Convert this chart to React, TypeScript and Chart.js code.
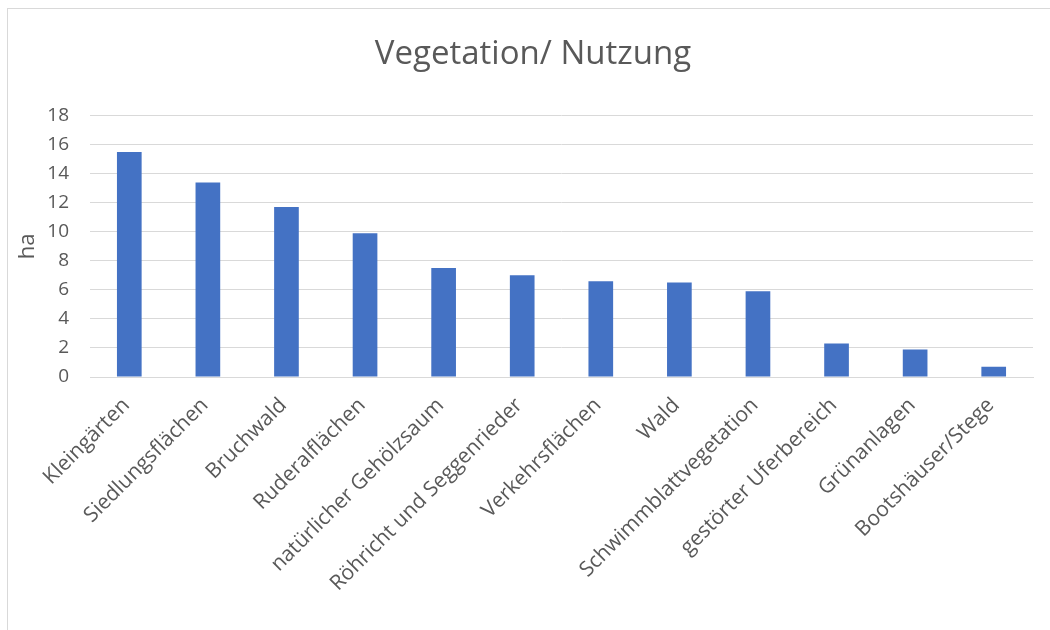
import React, { useEffect, useRef } from "react";
import { Chart, registerables } from "chart.js";

Chart.register(...registerables);

const categories = [
  "Kleingärten",
  "Siedlungsflächen",
  "Bruchwald",
  "Ruderalflächen",
  "natürlicher Gehölzsaum",
  "Röhricht und Seggenrieder",
  "Verkehrsflächen",
  "Wald",
  "Schwimmblattvegetation",
  "gestörter Uferbereich",
  "Grünanlagen",
  "Bootshäuser/Stege",
];
const values = [15.5, 13.4, 11.7, 9.9, 7.5, 7.0, 6.6, 6.5, 5.9, 2.3, 1.9, 0.7];
const titleText = "Vegetation/ Nutzung";
const yTitle = "ha";

const FONT = "'Open Sans', 'Noto Sans', sans-serif";
const TEXT = "#595959";

export default function App() {
  const ref = useRef<HTMLCanvasElement | null>(null);
  useEffect(() => {
    if (!ref.current) return;
    const chart = new Chart(ref.current, {
      type: "bar",
      data: {
        labels: categories,
        datasets: [
          {
            data: values,
            backgroundColor: "#4472C4",
            borderWidth: 0,
            barPercentage: 0.314,
            categoryPercentage: 1,
          },
        ],
      },
      options: {
        animation: false,
        responsive: false,
        layout: { padding: { left: 25, right: 18, top: 0, bottom: 0 } },
        plugins: {
          legend: { display: false },
          tooltip: { enabled: false },
          title: {
            display: true,
            text: titleText,
            color: TEXT,
            font: { family: FONT, size: 33, weight: "normal" },
            padding: { top: 26, bottom: 41 },
          },
        },
        scales: {
          x: {
            grid: { display: false, drawTicks: false },
            border: { display: true, color: "#d9d9d9", width: 1 },
            ticks: {
              color: TEXT,
              font: { family: FONT, size: 21 },
              minRotation: 45,
              maxRotation: 45,
              autoSkip: false,
              padding: 16,
              labelOffset: -3,
            },
            afterFit: (scale: any) => {
              scale.height = 254;
            },
          },
          y: {
            min: 0,
            max: 18,
            ticks: {
              stepSize: 2,
              color: TEXT,
              font: { family: FONT, size: 19 },
              padding: 21,
            },
            grid: { color: "#d9d9d9", lineWidth: 1, drawTicks: false },
            border: { display: false },
            title: {
              display: true,
              text: yTitle,
              color: TEXT,
              font: { family: FONT, size: 22, weight: "normal" },
              padding: { top: -18, bottom: 0 },
            },
            afterFit: (scale: any) => {
              scale.width = 57;
            },
          },
        },
      },
    });
    return () => chart.destroy();
  }, []);

  return (
    <div
      style={{
        position: "fixed",
        left: 7,
        top: 8,
        width: 1100,
        height: 700,
        border: "1px solid #d9d9d9",
        background: "#fff",
        overflow: "hidden",
      }}
    >
      <canvas ref={ref} width={1043} height={622} style={{ display: "block" }} />
    </div>
  );
}
